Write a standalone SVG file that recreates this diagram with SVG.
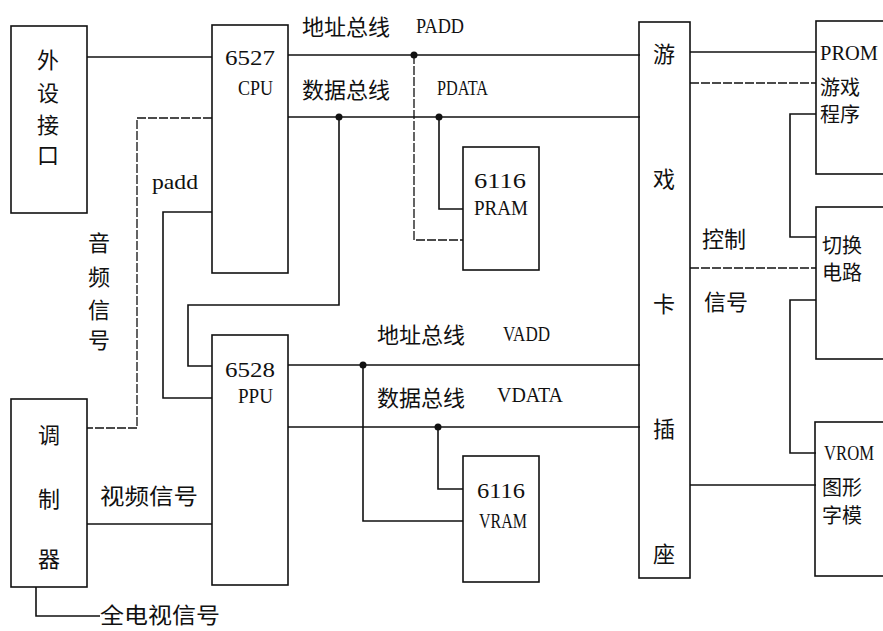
<svg xmlns="http://www.w3.org/2000/svg" width="883" height="631" viewBox="0 0 883 631">
<style>
.box{fill:none;stroke:#111;stroke-width:1.6}
.ln{fill:none;stroke:#111;stroke-width:1.6}
.dl{fill:none;stroke:#111;stroke-width:1.3;stroke-dasharray:9 2}
.dot{fill:#111}
.cn{font-family:"Noto Sans CJK SC","Noto Sans",sans-serif;font-size:22px;fill:#111}
.sm{font-size:20px}
.lt{font-family:"Liberation Serif",serif;font-size:22px;fill:#111}
.mid{text-anchor:middle}
</style>
<rect width="883" height="631" fill="#fff"/>
<g id="connectors">
  <path class="ln" d="M87 57H212"/>
  <path class="ln" d="M288 55H640"/>
  <path class="dl" d="M414 55V240H463"/>
  <path class="ln" d="M288 117H640"/>
  <path class="ln" d="M439 117V209H463"/>
  <path class="ln" d="M339 117V305H188V366H212"/>
  <path class="dl" d="M212 118H137V428H87"/>
  <path class="ln" d="M212 212H163V398H212"/>
  <path class="ln" d="M288 365H640"/>
  <path class="ln" d="M363 365V521H463"/>
  <path class="ln" d="M288 427H640"/>
  <path class="ln" d="M438 427V489H463"/>
  <path class="ln" d="M87 524H212"/>
  <path class="ln" d="M36 587V616H100"/>
  <path class="ln" d="M690 52H816"/>
  <path class="dl" d="M690 83H816"/>
  <path class="ln" d="M816 114H790V237H816"/>
  <path class="dl" d="M690 268H816"/>
  <path class="ln" d="M816 300H790V453H816"/>
  <path class="ln" d="M690 485H816"/>
  <circle class="dot" cx="414" cy="55" r="3.5"/>
  <circle class="dot" cx="339" cy="117" r="3.5"/>
  <circle class="dot" cx="439" cy="117" r="3.5"/>
  <circle class="dot" cx="363" cy="365" r="3.5"/>
  <circle class="dot" cx="438" cy="427" r="3.5"/>
</g>
<g id="bus-labels">
  <text class="cn" x="302" y="35">地址总线</text>
  <text class="lt" x="416" y="33" textLength="48" lengthAdjust="spacingAndGlyphs" font-size="20">PADD</text>
  <text class="cn" x="302" y="98">数据总线</text>
  <text class="lt" x="437" y="95" textLength="51" lengthAdjust="spacingAndGlyphs" font-size="20">PDATA</text>
  <text class="lt" x="152" y="189" font-size="20" textLength="46" lengthAdjust="spacingAndGlyphs">padd</text>
  <text class="cn" x="377" y="343">地址总线</text>
  <text class="lt" x="503" y="341" textLength="47" lengthAdjust="spacingAndGlyphs" font-size="20">VADD</text>
  <text class="cn" x="377" y="406">数据总线</text>
  <text class="lt" x="497" y="402" textLength="66" lengthAdjust="spacingAndGlyphs" font-size="20">VDATA</text>
  <text class="cn mid" x="99" y="251">音</text>
  <text class="cn mid" x="99" y="285">频</text>
  <text class="cn mid" x="99" y="318">信</text>
  <text class="cn mid" x="99" y="348">号</text>
  <text class="cn" x="100" y="504" textLength="98" lengthAdjust="spacingAndGlyphs">视频信号</text>
  <text class="cn" x="100" y="623" textLength="120" lengthAdjust="spacingAndGlyphs">全电视信号</text>
  <text class="cn" x="702" y="247">控制</text>
  <text class="cn" x="704" y="310">信号</text>
</g>
<g id="peripheral">
  <rect class="box" x="11" y="26" width="76" height="187"/>
  <text class="cn mid" x="48" y="68">外</text>
  <text class="cn mid" x="48" y="101">设</text>
  <text class="cn mid" x="48" y="133">接</text>
  <text class="cn mid" x="48" y="163">口</text>
</g>
<g id="cpu">
  <rect class="box" x="212" y="25" width="76" height="248"/>
  <text class="lt" x="225" y="65" font-size="24" textLength="50" lengthAdjust="spacingAndGlyphs">6527</text>
  <text class="lt" x="238" y="95" font-size="20" textLength="35" lengthAdjust="spacingAndGlyphs">CPU</text>
</g>
<g id="pram">
  <rect class="box" x="463" y="147" width="76" height="123"/>
  <text class="lt" x="474" y="188" font-size="22" textLength="52" lengthAdjust="spacingAndGlyphs">6116</text>
  <text class="lt" x="474" y="215" font-size="22" textLength="54" lengthAdjust="spacingAndGlyphs">PRAM</text>
</g>
<g id="ppu">
  <rect class="box" x="212" y="335" width="76" height="250"/>
  <text class="lt" x="225" y="377" font-size="24" textLength="50" lengthAdjust="spacingAndGlyphs">6528</text>
  <text class="lt" x="238" y="403" font-size="20" textLength="35" lengthAdjust="spacingAndGlyphs">PPU</text>
</g>
<g id="vram">
  <rect class="box" x="463" y="456" width="76" height="126"/>
  <text class="lt" x="477" y="498" font-size="22" textLength="48" lengthAdjust="spacingAndGlyphs">6116</text>
  <text class="lt" x="479" y="528" font-size="22" textLength="48" lengthAdjust="spacingAndGlyphs">VRAM</text>
</g>
<g id="modulator">
  <rect class="box" x="11" y="399" width="76" height="188"/>
  <text class="cn mid" x="49" y="443">调</text>
  <text class="cn mid" x="49" y="507">制</text>
  <text class="cn mid" x="49" y="567">器</text>
</g>
<g id="slot">
  <rect class="box" x="639" y="22" width="51" height="556"/>
  <text class="cn mid" x="664" y="62">游</text>
  <text class="cn mid" x="664" y="187">戏</text>
  <text class="cn mid" x="664" y="312">卡</text>
  <text class="cn mid" x="664" y="437">插</text>
  <text class="cn mid" x="664" y="562">座</text>
</g>
<g id="prom">
  <rect class="box" x="816" y="21" width="90" height="153"/>
  <text class="lt" x="820" y="60" font-size="22" textLength="58" lengthAdjust="spacingAndGlyphs">PROM</text>
  <text class="cn sm" x="820" y="95">游戏</text>
  <text class="cn sm" x="820" y="122">程序</text>
</g>
<g id="switch">
  <rect class="box" x="816" y="207" width="90" height="152"/>
  <text class="cn sm" x="822" y="253">切换</text>
  <text class="cn sm" x="822" y="280">电路</text>
</g>
<g id="vrom">
  <rect class="box" x="815" y="422" width="90" height="154"/>
  <text class="lt" x="824" y="460" font-size="19" textLength="50" lengthAdjust="spacingAndGlyphs">VROM</text>
  <text class="cn sm" x="822" y="495">图形</text>
  <text class="cn sm" x="822" y="523">字模</text>
</g>
</svg>
